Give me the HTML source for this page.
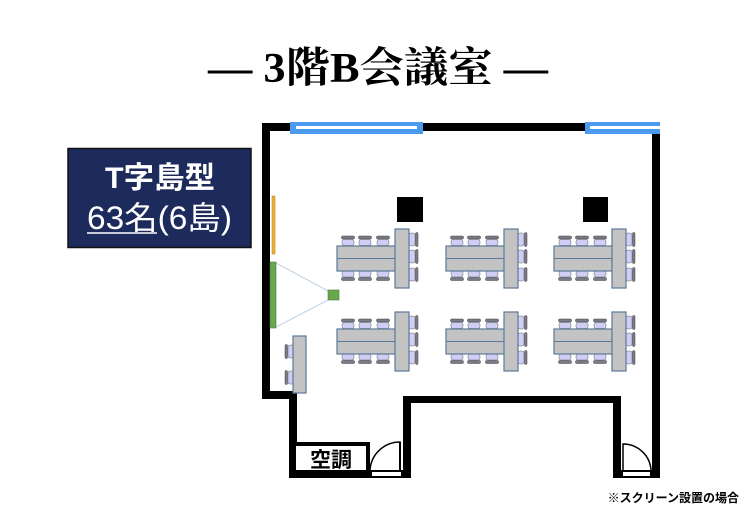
<!DOCTYPE html>
<html><head><meta charset="utf-8"><style>
html,body{margin:0;padding:0;background:#fff;}
svg{display:block;}
</style></head><body>
<svg width="756" height="525" viewBox="0 0 756 525" xmlns="http://www.w3.org/2000/svg">
<defs>
<g id="chairT"><rect x="0.5" y="0" width="13" height="3" rx="1" fill="#7a7a8a" stroke="#444" stroke-width="0.5"/><rect x="1" y="3.5" width="12" height="6" rx="2" fill="#cfcff5" stroke="#666" stroke-width="0.5"/></g>
<g id="chairB"><rect x="1" y="0" width="12" height="6" rx="2" fill="#cfcff5" stroke="#666" stroke-width="0.5"/><rect x="0.5" y="6.5" width="13" height="3" rx="1" fill="#7a7a8a" stroke="#444" stroke-width="0.5"/></g>
<g id="chairR"><rect x="0" y="1" width="6" height="13" rx="2" fill="#cfcff5" stroke="#666" stroke-width="0.5"/><rect x="6.5" y="0.5" width="2.5" height="14" rx="1" fill="#7a7a8a" stroke="#444" stroke-width="0.5"/></g>
<g id="chairL"><rect x="0" y="0.5" width="2.5" height="14" rx="1" fill="#7a7a8a" stroke="#444" stroke-width="0.5"/><rect x="3" y="1" width="6" height="13" rx="2" fill="#cfcff5" stroke="#666" stroke-width="0.5"/></g>
<g id="grp">
<use href="#chairT" x="341" y="236"/><use href="#chairT" x="358" y="236"/><use href="#chairT" x="376" y="236"/>
<use href="#chairB" x="341" y="271"/><use href="#chairB" x="358" y="271"/><use href="#chairB" x="376" y="271"/>
<rect x="337" y="246" width="59" height="25" fill="#c3c3c3" stroke="#5a7a9a" stroke-width="1.2"/>
<line x1="337" y1="258.5" x2="396" y2="258.5" stroke="#5a7a9a" stroke-width="1"/>
<use href="#chairR" x="409" y="232"/><use href="#chairR" x="409" y="249"/><use href="#chairR" x="409" y="267"/>
<rect x="395" y="229" width="14" height="59" fill="#c3c3c3" stroke="#5a7a9a" stroke-width="1.2"/>
</g>
</defs>

<text x="208" y="82" textLength="340" lengthAdjust="spacingAndGlyphs" font-family="'Liberation Serif','Noto Serif CJK SC',serif" font-weight="bold" font-size="42">― 3階B会議室 ―</text>

<rect x="68" y="148.5" width="183" height="99" fill="#1c2a5c" stroke="#111" stroke-width="1.5"/>
<text x="105" y="188" textLength="110" lengthAdjust="spacingAndGlyphs" fill="#fff" font-family="'Liberation Sans','Noto Sans CJK JP',sans-serif" font-weight="bold" font-size="30">T字島型</text>
<text x="87" y="229" textLength="145" lengthAdjust="spacingAndGlyphs" fill="#fff" font-family="'Liberation Sans','Noto Sans CJK JP',sans-serif" font-size="32">63名(6島)</text>
<line x1="87" y1="233" x2="157" y2="233" stroke="#fff" stroke-width="1.5"/>

<g fill="#000">
<rect x="262" y="123" width="398" height="8"/>
<rect x="262" y="123" width="8" height="276"/>
<rect x="262" y="391" width="35" height="8"/>
<rect x="289" y="391" width="8" height="87"/>
<rect x="289" y="470" width="81" height="8"/>
<rect x="403" y="396" width="8" height="82"/>
<rect x="403" y="396" width="218" height="7"/>
<rect x="613" y="396" width="8" height="82"/>
<rect x="652" y="123" width="8" height="355"/>
</g>
<rect x="290" y="122" width="133" height="12" fill="#4a9af0"/>
<rect x="296" y="126" width="121" height="3" fill="#fff"/>
<rect x="585" y="122" width="75" height="12" fill="#4a9af0"/>
<rect x="590" y="126" width="70" height="3" fill="#fff"/>

<rect x="296" y="442" width="74" height="30" fill="#000"/>
<rect x="296" y="446" width="70" height="24" fill="#fff"/>
<text x="331" y="467" text-anchor="middle" font-family="'Liberation Sans','Noto Sans CJK JP',sans-serif" font-weight="bold" font-size="21">空調</text>
<rect x="370" y="470" width="33" height="8" fill="#000"/>
<rect x="372" y="472" width="29" height="4" fill="#fff"/>
<path d="M370,470 A30,30 0 0 1 400,442 L400,470" fill="none" stroke="#000" stroke-width="1.5"/>
<line x1="400" y1="442" x2="400" y2="470" stroke="#000" stroke-width="2"/>
<rect x="621" y="470" width="31" height="8" fill="#000"/>
<rect x="623" y="472" width="27" height="4" fill="#fff"/>
<path d="M623,470 L623,444 A28,28 0 0 1 651,470" fill="none" stroke="#000" stroke-width="1.5"/>

<rect x="397" y="197" width="26" height="25" fill="#000"/>
<rect x="583" y="197" width="25" height="25" fill="#000"/>

<rect x="272" y="196" width="3" height="58" fill="#f0b030" stroke="#b08020" stroke-width="0.5"/>
<line x1="276" y1="263" x2="330" y2="292" stroke="#c0d4ec" stroke-width="1"/>
<line x1="276" y1="327" x2="330" y2="299" stroke="#c0d4ec" stroke-width="1"/>
<rect x="270" y="262" width="6" height="66" fill="#6aa84f" stroke="#4a7a3a" stroke-width="0.6"/>
<rect x="328" y="290" width="11" height="10" fill="#6aa84f" stroke="#4a7a3a" stroke-width="0.6"/>

<use href="#chairL" x="285" y="344"/><use href="#chairL" x="285" y="370"/>
<rect x="293" y="336" width="13" height="57" fill="#c3c3c3" stroke="#5a7a9a" stroke-width="1.2"/>

<use href="#grp"/>
<use href="#grp" x="109"/>
<use href="#grp" x="217"/>
<use href="#grp" y="83"/>
<use href="#grp" x="109" y="83"/>
<use href="#grp" x="217" y="83"/>

<text x="739" y="502" text-anchor="end" font-family="'Liberation Sans','Noto Sans CJK JP',sans-serif" font-weight="bold" font-size="12">※スクリーン設置の場合</text>
</svg>
</body></html>
